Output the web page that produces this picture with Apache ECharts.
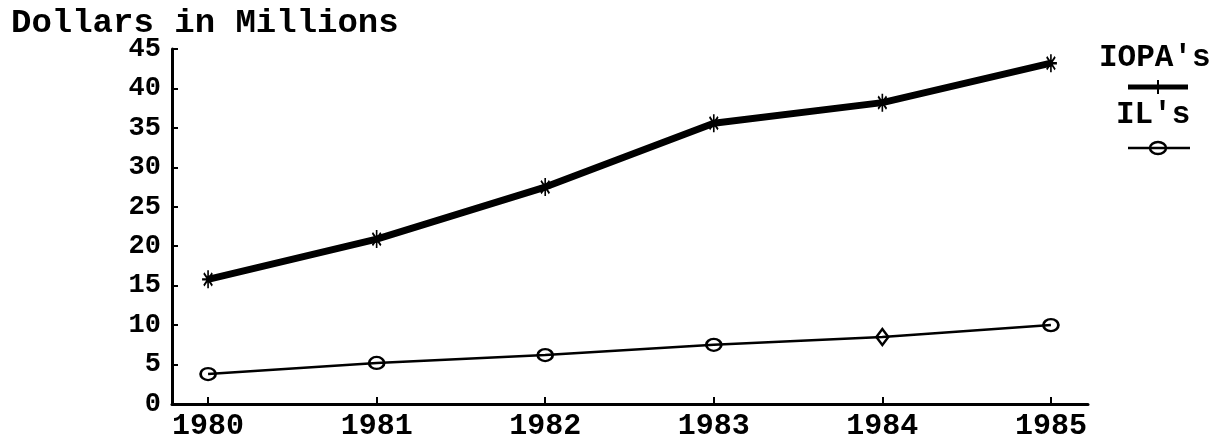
<!DOCTYPE html>
<html>
<head>
<meta charset="utf-8">
<script src="https://cdn.jsdelivr.net/npm/echarts@6/dist/echarts.min.js"></script>
<style>
html,body{margin:0;padding:0;background:#fff;}
#chart{width:1225px;height:436px;}
</style>
</head>
<body>
<div id="chart"></div>
<script>
const years = [1980, 1981, 1982, 1983, 1984, 1985];
const iopaValues = [15.8, 20.9, 27.5, 35.6, 38.2, 43.2];
const ilValues = [3.8, 5.2, 6.2, 7.5, 8.5, 10.0];
const yTicks = [0, 5, 10, 15, 20, 25, 30, 35, 40, 45];
const titleText = 'Dollars in Millions';
const seriesNames = ["IOPA's", "IL's"];

const FONT = '"Liberation Mono", "DejaVu Sans Mono", monospace';
const plusPath = 'path://M5,0L5,10M0,5L10,5M1.5,1.5L8.5,8.5M8.5,1.5L1.5,8.5';

const chart = echarts.init(document.getElementById('chart'), null, {renderer: 'canvas'});

const iopaData = years.map((y, i) => [y, iopaValues[i]]);
const ilData = years.map((y, i) => {
  const d = {value: [y, ilValues[i]]};
  if (y === 1984) { d.symbol = 'diamond'; d.symbolSize = [12, 16]; }
  return d;
});

chart.setOption({
  animation: false,
  backgroundColor: '#fff',
  grid: {left: 172, right: 137, top: 49, bottom: 32, containLabel: false, outerBoundsMode: 'none'},
  xAxis: {
    type: 'value',
    min: 1979.786,
    max: 1985.22,
    axisLine: {show: true, lineStyle: {color: '#000', width: 3}},
    axisTick: {show: true, inside: true, length: 7, lineStyle: {color: '#000', width: 2}, customValues: years},
    axisLabel: {
      show: true, customValues: years, margin: 7,
      color: '#000', fontFamily: FONT, fontWeight: 'bold', fontSize: 30,
      formatter: v => String(Math.round(v))
    },
    splitLine: {show: false}
  },
  yAxis: {
    type: 'value',
    min: 0, max: 45, interval: 5,
    axisLine: {show: true, lineStyle: {color: '#000', width: 3}},
    axisTick: {show: true, inside: true, length: 6, lineStyle: {color: '#000', width: 2}, customValues: yTicks},
    axisLabel: {
      show: true, customValues: yTicks, margin: 11,
      color: '#000', fontFamily: FONT, fontWeight: 'bold', fontSize: 27
    },
    splitLine: {show: false}
  },
  title: {
    text: titleText,
    left: 6, top: 1,
    textStyle: {fontFamily: FONT, fontWeight: 'bold', fontSize: 34, color: '#000'}
  },
  series: [
    {
      name: seriesNames[0],
      type: 'line',
      data: iopaData,
      lineStyle: {color: '#000', width: 7},
      symbol: plusPath,
      symbolSize: [12, 18],
      itemStyle: {color: '#000', borderColor: '#000', borderWidth: 2},
      z: 3
    },
    {
      name: seriesNames[1],
      type: 'line',
      data: ilData,
      lineStyle: {color: '#000', width: 2.5},
      symbol: 'circle',
      symbolSize: [15, 12],
      itemStyle: {color: 'rgba(0,0,0,0)', borderColor: '#000', borderWidth: 2.5},
      z: 3
    }
  ],
  graphic: [
    {type: 'text', left: 1099, top: 43, style: {text: seriesNames[0], fontFamily: FONT, fontWeight: 'bold', fontSize: 31, fill: '#000'}},
    {type: 'line', shape: {x1: 1128, y1: 87, x2: 1188, y2: 87}, style: {stroke: '#000', lineWidth: 5}},
    {type: 'line', shape: {x1: 1158, y1: 80, x2: 1158, y2: 94}, style: {stroke: '#000', lineWidth: 2}},
    {type: 'text', left: 1116, top: 100, style: {text: seriesNames[1], fontFamily: FONT, fontWeight: 'bold', fontSize: 31, fill: '#000'}},
    {type: 'line', shape: {x1: 1128, y1: 148, x2: 1190, y2: 148}, style: {stroke: '#000', lineWidth: 2.5}},
    {type: 'ellipse', shape: {cx: 1158, cy: 148, rx: 8, ry: 6}, style: {fill: 'none', stroke: '#000', lineWidth: 2.5}}
  ]
});
</script>
</body>
</html>
